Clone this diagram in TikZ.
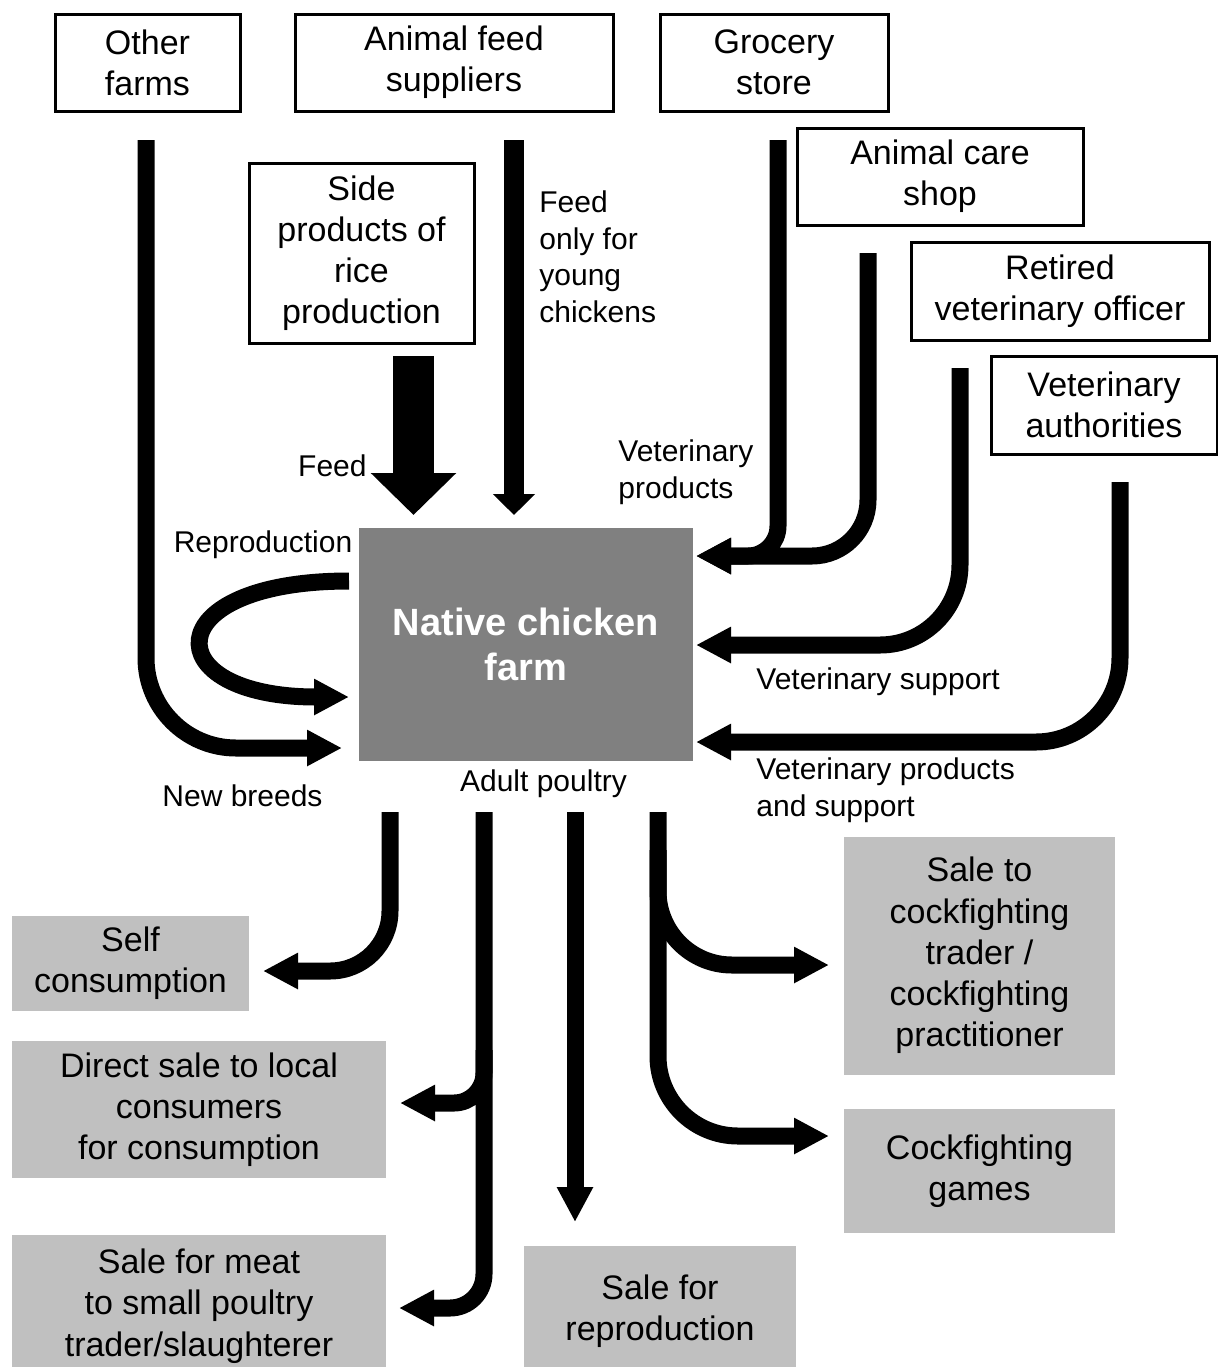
\documentclass[tikz,border=0pt]{standalone}
\usepackage{fontspec}
\setmainfont{Liberation Sans}
\usetikzlibrary{arrows.meta}
\definecolor{farmgray}{HTML}{808080}
\definecolor{outgray}{HTML}{C0C0C0}
\newcommand{\boxfont}{\fontsize{17pt}{20.6pt}\selectfont}
\newcommand{\lblfont}{\fontsize{15pt}{18.25pt}\selectfont}
\tikzset{
source/.style={draw, line width=1.5pt, inner sep=0pt, align=center, font=\boxfont},
outlet/.style={fill=outgray, inner sep=0pt, align=center, font=\boxfont},
flow/.style={line width=8.5pt, -{Triangle[length=17.5pt,width=17pt]}},
lbl/.style={inner sep=0pt, font=\lblfont},
}

\begin{document}
\begin{tikzpicture}[x=0.5pt, y=-0.5pt]
    \useasboundingbox (0,0) rectangle (1218,1367);

    % sources
    \node[source, minimum width=92.5pt, minimum height=48.5pt] (other) at (147.5,62.5) {Other\\farms};
    \node[source, minimum width=159pt, minimum height=48.5pt] (feedsup) at (454,62.5) {Animal feed\\suppliers};
    \node[source, minimum width=114pt, minimum height=48.5pt] (grocery) at (774,62.5) {Grocery\\store};
    \node[source, minimum width=143pt, minimum height=48.5pt] (careshop) at (940,176.5) {Animal care\\shop};
    \node[source, minimum width=149pt, minimum height=49pt] (retired) at (1060,291) {Retired\\veterinary officer};
    \node[source, minimum width=113pt, minimum height=49pt] (vetauth) at (1104,405) {Veterinary\\authorities};
    \node[source, minimum width=112.5pt, minimum height=90pt] (sideprod) at (361.5,253) {Side\\products of\\rice\\production};

    % the farm
    \node[fill=farmgray, text=white, inner sep=0pt, align=center,
          font=\fontsize{19pt}{22.5pt}\selectfont\bfseries,
          minimum width=167pt, minimum height=116.5pt] (farm) at (526,644) {Native chicken\\farm};

    % outlets
    \node[outlet, minimum width=118.5pt, minimum height=47.5pt] (self) at (130.5,963.5) {Self\\consumption};
    \node[outlet, minimum width=187pt, minimum height=68.5pt] (direct) at (199,1109.5) {Direct sale to local\\consumers\\for consumption};
    \node[outlet, minimum width=187pt, minimum height=71pt] (meat) at (199,1306) {Sale for meat\\to small poultry\\trader/slaughterer};
    \node[outlet, minimum width=136pt, minimum height=65pt] (reprod) at (660,1311) {Sale for\\reproduction};
    \node[outlet, minimum width=135.5pt, minimum height=119pt] (cftrader) at (979.5,955.5) {Sale to\\cockfighting\\trader /\\cockfighting\\practitioner};
    \node[outlet, minimum width=135.5pt, minimum height=62pt] (cfgames) at (979.5,1171) {Cockfighting\\games};

    % labels
    \node[lbl, anchor=east] (l-feed) at (367,466) {Feed};
    \node[lbl, anchor=west, align=left] (l-young) at (539,257) {Feed\\only for\\young\\chickens};
    \node[lbl, anchor=west, align=left] (l-vetprod) at (618,472) {Veterinary\\products};
    \node[lbl] (l-repro) at (263,545) {Reproduction};
    \node[lbl] (l-breeds) at (242.5,796) {New breeds};
    \node[lbl] (l-adult) at (543.5,784) {Adult poultry};
    \node[lbl, anchor=west] (l-vetsup) at (756,682) {Veterinary support};
    \node[lbl, anchor=west, align=left] (l-vetboth) at (756,790) {Veterinary products\\and support};

    % arrow ends
    \coordinate (oth-out) at (146,140);
    \coordinate (nb-in) at (342,748);
    \coordinate (rp-out) at (349,581);
    \coordinate (rp-in) at (349,697);
    \coordinate (sp-out) at (413.5,356);
    \coordinate (sp-in) at (413.5,515);
    \coordinate (fs-out) at (514,140);
    \coordinate (fs-in) at (514,515);
    \coordinate (gr-out) at (778,140);
    \coordinate (cs-out) at (868,253);
    \coordinate (vp-in) at (696,556);
    \coordinate (ro-out) at (960,368);
    \coordinate (vs-in) at (696,645);
    \coordinate (va-out) at (1120,482);
    \coordinate (vb-in) at (696,742);

    \coordinate (sc-out) at (390,812);
    \coordinate (sc-in) at (263,971);
    \coordinate (mt-out) at (484,812);
    \coordinate (mt-in) at (399,1308);
    \coordinate (ds-out) at (484,1050);
    \coordinate (ds-in) at (400,1103);
    \coordinate (rs-out) at (575,812);
    \coordinate (rs-in) at (575,1222);
    \coordinate (cf-out) at (658,812);
    \coordinate (ct-out) at (658,850);
    \coordinate (ct-in) at (829,965);
    \coordinate (cg-in) at (829,1136);

    % inflows
    \draw[flow, rounded corners=45pt] (oth-out) |- (nb-in);
    \draw[flow] (rp-out) .. controls (155,581) and (155,697) .. (rp-in);
    \draw[line width=20.5pt, -{Triangle[length=21pt,width=41.5pt]}] (sp-out) -- (sp-in);
    \draw[line width=10pt, -{Triangle[length=10.5pt,width=20.5pt]}] (fs-out) -- (fs-in);
    \draw[flow, rounded corners=15pt] (gr-out) |- (vp-in);
    \draw[flow, rounded corners=28pt] (cs-out) |- (vp-in);
    \draw[flow, rounded corners=40pt] (ro-out) |- (vs-in);
    \draw[flow, rounded corners=42pt] (va-out) |- (vb-in);

    % outflows
    \draw[flow, rounded corners=30pt] (sc-out) |- (sc-in);
    \draw[flow, rounded corners=17pt] (mt-out) |- (mt-in);
    \draw[flow, rounded corners=15pt] (ds-out) |- (ds-in);
    \draw[flow] (rs-out) -- (rs-in);
    \draw[flow, rounded corners=40pt] (cf-out) |- (cg-in);
    \draw[flow, rounded corners=37pt] (ct-out) |- (ct-in);

\end{tikzpicture}
\end{document}
